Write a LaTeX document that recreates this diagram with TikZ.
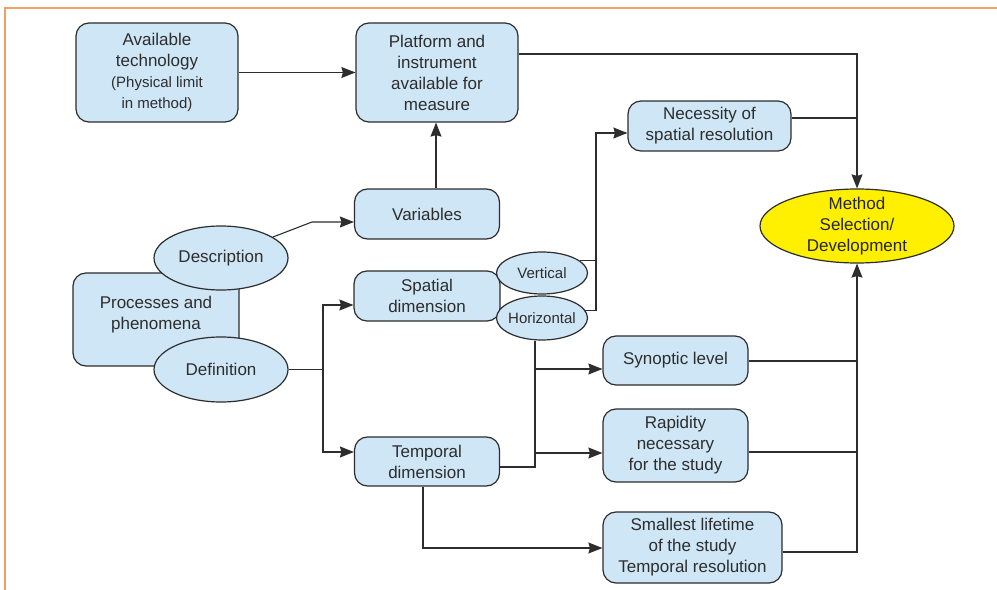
\documentclass[tikz,border=0pt]{standalone}
\usepackage{fontspec}
\setmainfont{Liberation Sans}
\usetikzlibrary{shapes.geometric,arrows.meta}
\definecolor{boxfill}{RGB}{207,230,246}
\definecolor{methfill}{RGB}{255,240,0}
\definecolor{framecol}{RGB}{240,160,100}
\definecolor{ink}{RGB}{45,45,45}
\begin{document}
\begin{tikzpicture}[x=1bp,y=-1bp,
  txt/.style={text=ink,align=center,font=\fontsize{17bp}{21bp}\selectfont},
  box/.style={draw=ink,fill=boxfill,rounded corners=13bp,line width=1.2bp,inner sep=0pt,txt},
  oval/.style={ellipse,draw=ink,fill=boxfill,line width=1.2bp,inner sep=0pt},
  conn/.style={draw=ink,line width=1.1bp},
  arr/.style={conn,-{Stealth[length=14bp,width=11bp,inset=1.5bp]}}]
\useasboundingbox (0,0) rectangle (997,590);
\fill[white] (0,0) rectangle (997,590);
\draw[framecol,line width=1.3bp] (5,590) -- (5,8) -- (997,8);

% boxes
\node[box,minimum width=162bp,minimum height=99bp] (tech) at (157,72.5)
  {Available\\technology\\\fontsize{15bp}{21bp}\selectfont(Physical limit\\\fontsize{15bp}{21bp}\selectfont in method)};
\node[box,minimum width=162bp,minimum height=99bp] (plat) at (437,72.5)
  {Platform and\\instrument\\available for\\measure};
\node[box,minimum width=145bp,minimum height=50bp] (var) at (427,214) {Variables};
\node[box,minimum width=163bp,minimum height=50bp] (need) at (709.5,126) {Necessity of\\spatial resolution};
\node[ellipse,draw=ink,fill=methfill,line width=1.2bp,inner sep=0pt,minimum width=194bp,minimum height=74bp,
  label={[txt,text=black!85]center:Method\\Selection/\\Development}] (meth) at (857,226) {};

\node[box,minimum width=166bp,minimum height=93bp,
  label={[txt,yshift=5bp]center:Processes and\\phenomena}] (proc) at (156,319.5) {};
\node[oval,minimum width=134bp,minimum height=64bp,label={[txt]center:Description}] (desc) at (221,258) {};
\node[oval,minimum width=134bp,minimum height=65bp,label={[txt]center:Definition}] (defn) at (221,369.5) {};

\node[box,minimum width=146bp,minimum height=50bp] (spat) at (427,296) {Spatial\\dimension};
\node[oval,minimum width=91bp,minimum height=42bp,
  label={[txt,font=\fontsize{15bp}{18bp}\selectfont]center:Vertical}] (vert) at (542,273) {};
\node[oval,minimum width=91bp,minimum height=44bp,
  label={[txt,font=\fontsize{15bp}{18bp}\selectfont]center:Horizontal}] (horiz) at (542,318) {};
\node[box,minimum width=145bp,minimum height=49bp] (temp) at (427,461.5) {Temporal\\dimension};

\node[box,minimum width=145bp,minimum height=49bp] (syn) at (675.5,360.5) {Synoptic level};
\node[box,minimum width=145bp,minimum height=73bp] (rap) at (675.5,445.5) {Rapidity\\necessary\\for the study};
\node[box,minimum width=179bp,minimum height=71bp] (small) at (692.5,547.5) {Smallest lifetime\\of the study\\Temporal resolution};

% junction coordinates
\coordinate (jTop) at (857,54);
\coordinate (jNeed) at (857,118);
\coordinate (vx) at (436,0);
\coordinate (d1) at (312,222);
\coordinate (b1) at (323,369.5);
\coordinate (yS) at (0,305);
\coordinate (yT) at (0,452);
\coordinate (xN) at (596,133);
\coordinate (tj) at (535,467);
\coordinate (ySyn) at (535,369);
\coordinate (yRap) at (535,453);
\coordinate (tb) at (423,548);
\coordinate (rSyn) at (857,361);
\coordinate (rRap) at (857,452);
\coordinate (rSm) at (857,552);

% connectors
\draw[arr] (tech.east) -- (plat.west);
\draw[arr] (plat.east |- jTop) -- (jTop) -- (meth.north);
\draw[conn] (need.east |- jNeed) -- (jNeed);
\draw[arr] (var.north -| vx) -- (plat.south -| vx);
\draw[arr] (desc.22) -- (d1) -- (var.west |- d1);
\draw[conn] (defn.east) -- (b1);
\draw[arr] (b1) |- (spat.west |- yS);
\draw[arr] (b1) |- (temp.west |- yT);
\draw[conn] (vert.18) -- (vert.18 -| xN);
\draw[arr] (horiz.10) -| (xN) -- (need.west |- xN);
\draw[conn] (horiz.south -| tj) -- (tj) -- (temp.east |- tj);
\draw[arr] (ySyn) -- (syn.west |- ySyn);
\draw[arr] (yRap) -- (rap.west |- yRap);
\draw[arr] (temp.south -| tb) -- (tb) -- (small.west |- tb);
\draw[conn] (syn.east |- rSyn) -- (rSyn);
\draw[conn] (rap.east |- rRap) -- (rRap);
\draw[arr] (small.east |- rSm) -- (rSm) -- (meth.south);
\end{tikzpicture}
\end{document}
